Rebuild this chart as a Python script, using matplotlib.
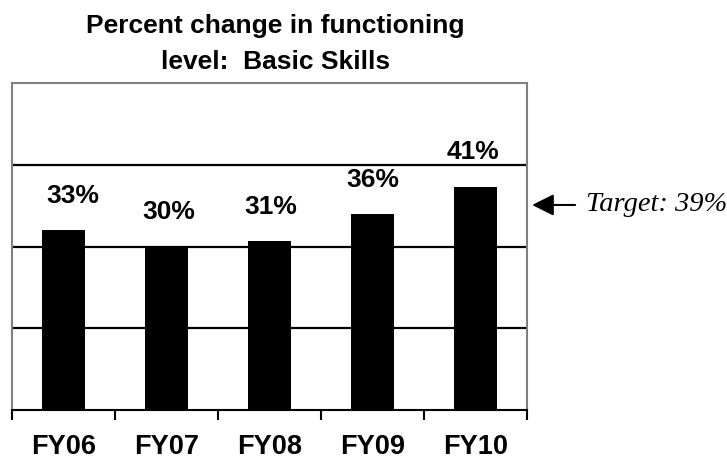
import matplotlib
matplotlib.use('Agg')
import numpy as np
from matplotlib import pyplot as plt

# данные
years = ['FY06', 'FY07', 'FY08', 'FY09', 'FY10']
values = [33, 30, 31, 36, 41]
target = 39
grid_levels = [15, 30, 45]

# небольшие сдвиги подписей как на оригинале (в пунктах)
label_dx = [7, 1.5, 1, 0, -2]

plt.rcParams['font.family'] = ['Liberation Sans', 'DejaVu Sans']

fig = plt.figure(figsize=(7.27, 4.62), dpi=100)
ax = fig.add_axes([12 / 727, 1 - 410 / 462, 515 / 727, 327 / 462])

index = np.arange(len(years))
ax.bar(index, values, 0.42, color='black', zorder=3)

for y in grid_levels:
    ax.axhline(y, color='black', lw=1.6, zorder=2)

ax.set_xlim(-0.5, len(years) - 0.5)
ax.set_ylim(0, 60)
ax.set_yticks([])

# подписи значений
for i, v in enumerate(values):
    ax.annotate(f'{v}%', (i, v), xytext=(label_dx[i], 19.5), textcoords='offset points',
                ha='center', va='baseline', fontsize=19, fontweight='bold')

# ось X
ax.set_xticks(index)
ax.set_xticklabels(years, fontsize=19.5, fontweight='bold')
ax.set_xticks(np.arange(len(years) + 1) - 0.5, minor=True)
ax.tick_params(axis='x', which='major', length=0, pad=17)
ax.tick_params(axis='x', which='minor', length=7, width=1.5, direction='out')

for s in ['left', 'top', 'right']:
    ax.spines[s].set_color('#808080')
    ax.spines[s].set_linewidth(1.5)
ax.spines['bottom'].set_linewidth(1.5)

ax.set_title('Percent change in functioning\nlevel:  Basic Skills', x=0.512,
             fontsize=19, fontweight='bold', pad=10, linespacing=1.65)

# целевое значение
ax.annotate(f'Target: {target}%', xy=(1.01, 0.627), xycoords='axes fraction',
            xytext=(1.115, 0.627), textcoords='axes fraction',
            fontsize=20.5, fontstyle='italic', family='Liberation Serif',
            va='center', ha='left',
            arrowprops=dict(arrowstyle='-|>,head_length=0.6,head_width=0.3',
                            color='black', lw=1.5,
                            mutation_scale=22, shrinkA=6, shrinkB=0))

fig.savefig('out.png', dpi=100)
